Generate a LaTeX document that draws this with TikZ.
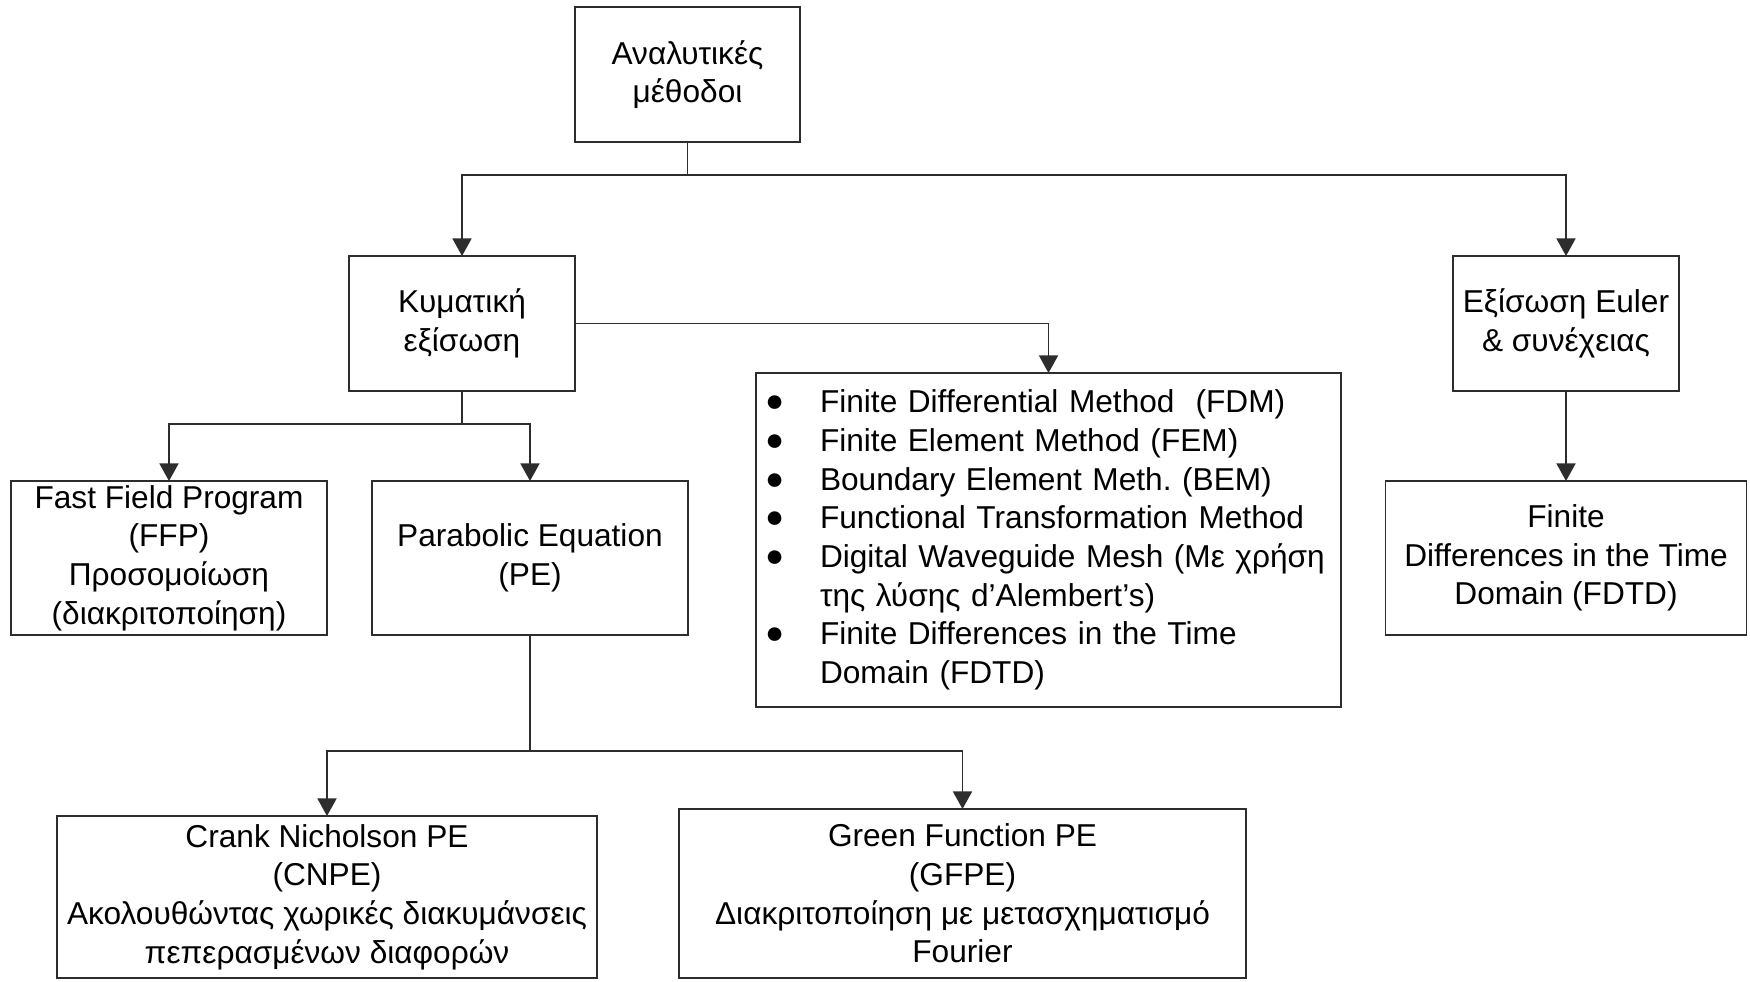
\documentclass[tikz,border=0pt]{standalone}
\usepackage{fontspec}
\setmainfont{Liberation Sans}
\frenchspacing
\usepackage{xcolor}
\usepackage{tikz}
\usetikzlibrary{arrows.meta, positioning}
\definecolor{linegray}{RGB}{45,45,45}
\newcommand{\itembullet}{\makebox[0.55cm][l]{\raisebox{0.3pt}{●}}}
\tikzset{
  box/.style={rectangle, draw=linegray, line width=0.5pt, align=center,
    inner sep=0pt, outer sep=0pt, font=\fontsize{9}{11}\selectfont},
  link/.style={line width=0.5pt, draw=linegray},
  arrow/.style={link, -{Triangle[width=5.4pt, length=5pt]}},
}
\begin{document}
\begin{tikzpicture}
  \useasboundingbox (0,0) rectangle (17.5,-9.81);
  % first level
  \node[box, minimum width=2.25cm, minimum height=1.35cm]
    (anal) at (6.875,-0.745) {Αναλυτικές\\μέθοδοι};
  \node[box, below left=1.14cm and 0cm of anal,
        minimum width=2.26cm, minimum height=1.35cm]
    (kym) {Κυματική\\εξίσωση};
  \node[box, right=8.78cm of kym,
        minimum width=2.26cm, minimum height=1.35cm]
    (euler) {Εξίσωση Euler\\\& συνέχειας};
  % second level
  \node[box, below left=0.9cm and 0.22cm of kym,
        minimum width=3.16cm, minimum height=1.54cm]
    (ffp) {Fast Field Program\\(FFP)\\Προσομοίωση\\(διακριτοποίηση)};
  \node[box, right=0.45cm of ffp,
        minimum width=3.16cm, minimum height=1.54cm]
    (pe) {Parabolic Equation\\(PE)};
  \node[box, below=0.9cm of euler,
        minimum width=3.61cm, minimum height=1.54cm]
    (fdtd) {Finite\\Differences in the Time\\Domain (FDTD)};
  \node[box, minimum width=5.85cm, minimum height=3.34cm,
        text width=5.67cm, align=left]
    (list) at (10.485,-5.40) {%
      \itembullet Finite Differential Method\ \ (FDM)\\
      \itembullet Finite Element Method (FEM)\\
      \itembullet Boundary Element Meth. (BEM)\\
      \itembullet Functional Transformation Method\\
      \itembullet Digital Waveguide Mesh (Με χρήση\\
      \hspace*{0.55cm}της λύσης d’Alembert’s)\\
      \itembullet Finite Differences in the Time\\
      \hspace*{0.55cm}Domain (FDTD)};
  % third level
  \node[box, minimum width=5.40cm, minimum height=1.62cm]
    (cnpe) at (3.27,-8.97)
    {Crank Nicholson PE\\(CNPE)\\Ακολουθώντας χωρικές διακυμάνσεις\\πεπερασμένων διαφορών};
  \node[box, minimum width=5.67cm, minimum height=1.69cm]
    (gfpe) at (9.625,-8.935)
    {Green Function PE\\(GFPE)\\Διακριτοποίηση με μετασχηματισμό\\Fourier};
  % connectors
  \draw[arrow] (anal.south) -- ++(0,-0.33) -| (kym.north);
  \draw[arrow] (anal.south) -- ++(0,-0.33) -| (euler.north);
  \draw[arrow] (kym.east) -| (list.north);
  \draw[arrow] (kym.south) -- ++(0,-0.33) -| (ffp.north);
  \draw[arrow] (kym.south) -- ++(0,-0.33) -| (pe.north);
  \draw[arrow] (euler.south) -- (fdtd.north);
  \draw[arrow] (pe.south) -- ++(0,-1.16) -| (cnpe.north);
  \draw[arrow] (pe.south) -- ++(0,-1.16) -| (gfpe.north);
\end{tikzpicture}
\end{document}
